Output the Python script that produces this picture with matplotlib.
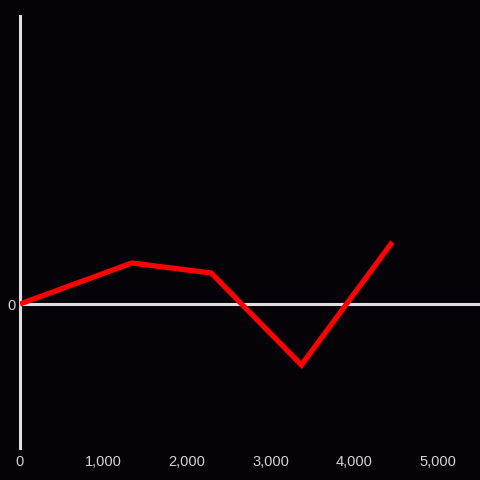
import matplotlib
matplotlib.use("Agg")
import matplotlib.pyplot as plt

x_values = [0, 1340, 2290, 3370, 4460]
y_values = [0, 41, 31, -61, 62]
x_ticks = [0, 1000, 2000, 3000, 4000, 5000]
x_tick_labels = ["0", "1,000", "2,000", "3,000", "4,000", "5,000"]
y_ticks = [0]
y_tick_labels = ["0"]

bg = "#050307"
fg = "#e0e0e0"
txt = "#d4d4d4"

fig = plt.figure(figsize=(4.8, 4.8), dpi=100, facecolor=bg)
ax = fig.add_axes([20/480, 32/480, 460/480, 432/480], facecolor=bg)

ax.axhline(0, color=fg, lw=2.2, zorder=1)
ax.plot(x_values, y_values, color="#ff0000", lw=3.8, solid_capstyle="butt",
        solid_joinstyle="miter", zorder=3)

ax.set_xlim(0, 5509)
ax.set_ylim(-144, 288)

for s in ["top", "right", "bottom"]:
    ax.spines[s].set_visible(False)
ax.spines["left"].set_color(fg)
ax.spines["left"].set_linewidth(2.2)

ax.set_xticks(x_ticks)
ax.set_xticklabels(x_tick_labels)
ax.set_yticks(y_ticks)
ax.set_yticklabels(y_tick_labels)
ax.tick_params(axis="both", length=0, colors=txt, labelsize=10.5)
ax.tick_params(axis="x", pad=5)
ax.tick_params(axis="y", pad=3)
for lab in ax.get_xticklabels() + ax.get_yticklabels():
    lab.set_fontfamily("Liberation Sans")

fig.savefig("out.png", dpi=100, facecolor=bg)
